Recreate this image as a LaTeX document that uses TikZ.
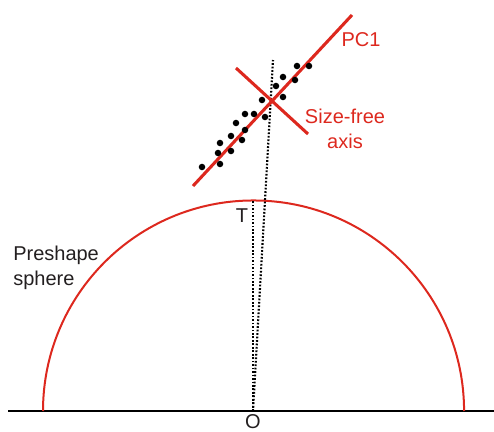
\documentclass[tikz,border=0pt]{standalone}
\usepackage{fontspec}
\setmainfont{Liberation Sans}
\definecolor{myred}{RGB}{221,40,30}
\definecolor{txt}{RGB}{35,31,32}
\begin{document}
\begin{tikzpicture}[x=0.75pt,y=-0.75pt,
  redline/.style={draw=myred,line width=2.3pt},
  sphereline/.style={draw=myred,line width=1.5pt},
  dotline/.style={draw=black,line width=1.6pt,dash pattern=on 1.3pt off 1.3pt},
  datapt/.style={circle,fill=black,inner sep=0pt,minimum size=4.9pt},
  lbl/.style={font=\fontsize{15}{18}\selectfont,inner sep=0pt,anchor=base,text=txt},
  redlbl/.style={lbl,text=myred}]
\useasboundingbox (0,0) rectangle (494,432);
% base line
\coordinate (bl) at (8,411);
\coordinate (br) at (494,411);
\draw[line width=1.5pt] (bl) -- (br);
% preshape sphere
\coordinate (sl) at (43,411);
\draw[sphereline] (sl) arc[start angle=180,end angle=0,radius=157.9pt];
% origin and dotted lines
\coordinate (O) at (253,411);
\coordinate (Ttop) at (253,200);
\coordinate (Dtop) at (273,60);
\draw[dotline] (O) -- (Ttop);
\draw[dotline] (O) -- (Dtop);
% PC1 and size-free axis
\coordinate (pcA) at (193,186);
\coordinate (pcB) at (352,15);
\coordinate (sfA) at (236,68);
\coordinate (sfB) at (308,134);
\draw[redline] (pcA) -- (pcB);
\draw[redline] (sfA) -- (sfB);
% data points
\foreach \i/\p in {1/{202,167},2/{220,164},3/{218,153},4/{231,151},5/{220,143},
  6/{231,136},7/{242,140},8/{245,130},9/{236,123},10/{245,114},11/{254,114},
  12/{265,117},13/{262,100},14/{283,97},15/{276,86},16/{283,77},17/{295,80},
  18/{297,66},19/{309,66}}
  \node[datapt] (d\i) at (\p) {};
% labels
\node[redlbl] (pc1) at (361,46) {PC1};
\node[redlbl] (sf1) at (345,123) {Size-free};
\node[redlbl] (sf2) at (345,148) {axis};
\node[lbl,anchor=base west] (ps1) at (13,260) {Preshape};
\node[lbl,anchor=base west] (ps2) at (13,285) {sphere};
\node[lbl] (T) at (242,222) {T};
\node[lbl] (Olbl) at (253,428.5) {O};
\end{tikzpicture}
\end{document}
